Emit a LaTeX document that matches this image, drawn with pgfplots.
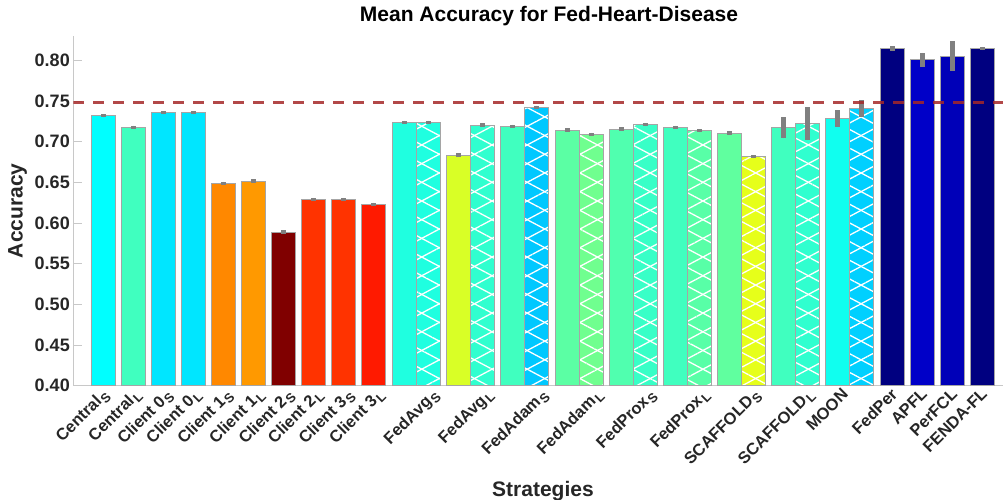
\documentclass[border=0pt]{standalone}
\usepackage{fontspec}
\setmainfont{Liberation Sans}
\usepackage{pgfplots}
\pgfplotsset{compat=1.18}
\usetikzlibrary{patterns.meta}

\definecolor{edgegray}{RGB}{165,165,165}
\definecolor{errgray}{RGB}{128,128,128}
\definecolor{refred}{RGB}{165,40,40}
\definecolor{ticktext}{RGB}{38,38,38}
\definecolor{axgray}{RGB}{200,200,200}

\definecolor{cCS}{RGB}{0,255,255}
\definecolor{cCL}{RGB}{64,255,191}
\definecolor{cZ}{RGB}{0,230,255}
\definecolor{cOS}{RGB}{255,136,0}
\definecolor{cOL}{RGB}{255,153,0}
\definecolor{cTS}{RGB}{128,0,0}
\definecolor{cTL}{RGB}{255,51,0}
\definecolor{cRS}{RGB}{255,51,0}
\definecolor{cRL}{RGB}{255,26,0}
\definecolor{gAs}{RGB}{31,255,224}
\definecolor{gAh}{RGB}{31,255,224}
\definecolor{gBs}{RGB}{217,255,38}
\definecolor{gBh}{RGB}{48,255,207}
\definecolor{gCs}{RGB}{64,255,191}
\definecolor{gCh}{RGB}{0,200,255}
\definecolor{gDs}{RGB}{91,255,164}
\definecolor{gDh}{RGB}{112,255,143}
\definecolor{gEs}{RGB}{80,255,175}
\definecolor{gEh}{RGB}{56,255,199}
\definecolor{gFs}{RGB}{64,255,191}
\definecolor{gFh}{RGB}{88,255,167}
\definecolor{gGs}{RGB}{96,255,159}
\definecolor{gGh}{RGB}{230,255,26}
\definecolor{gHs}{RGB}{64,255,191}
\definecolor{gHh}{RGB}{48,255,207}
\definecolor{gIs}{RGB}{16,255,239}
\definecolor{gIh}{RGB}{0,208,255}
\definecolor{pA}{RGB}{0,0,128}
\definecolor{pB}{RGB}{0,0,200}
\definecolor{pC}{RGB}{0,0,184}
\definecolor{pD}{RGB}{0,0,128}

\newcommand{\sub}[1]{\kern1pt\raisebox{-3.5pt}{\fontsize{13}{13}\selectfont #1}}

\newcommand{\sbar}[4]{\addplot[ybar, bar width=24, bar shift=0pt, fill=#1, draw=edgegray, line width=0.8pt,
  error bars/.cd, y dir=both, y explicit, error mark=none,
  error bar style={line width=5pt, color=errgray}]
  coordinates {(#2,#3) +- (0,#4)};}
\newcommand{\hatchbar}[4]{\addplot[ybar, bar width=24, bar shift=0pt, fill=#1, draw=edgegray, line width=0.8pt,
  postaction={pattern={Lines[angle=28,distance=16.5pt,line width=1.3pt]}, pattern color=white},
  postaction={pattern={Lines[angle=-28,distance=16.5pt,line width=1.3pt]}, pattern color=white},
  error bars/.cd, y dir=both, y explicit, error mark=none,
  error bar style={line width=5pt, color=errgray}]
  coordinates {(#2,#3) +- (0,#4)};}

\begin{document}
\begin{tikzpicture}
\useasboundingbox (0,0) rectangle (1005pt,500pt);
\begin{axis}[
  at={(73.3pt,114.3pt)}, anchor=south west,
  scale only axis, width=929.7pt, height=349.7pt,
  xmin=73.3, xmax=1003, ymin=0.40, ymax=0.83,
  axis x line*=bottom, axis y line*=left,
  axis line style={axgray, line width=1pt},
  tick align=inside, major tick length=9pt,
  ytick={0.40,0.45,0.50,0.55,0.60,0.65,0.70,0.75,0.80},
  ytick style={axgray, line width=1pt},
  xtick style={draw=none},
  /pgf/number format/assume math mode=true,
  yticklabel style={/pgf/number format/fixed, /pgf/number format/fixed zerofill,
    /pgf/number format/precision=2, font=\fontsize{18}{20}\selectfont\bfseries, text=ticktext},
  xtick={101,133,164.7,193,224.7,256,286,314.7,346,376,431,485,540,594.7,648,701.3,753,806.3,841,890,920,950,980},
  xticklabels={Central\sub{S}, Central\sub{L}, Client 0\sub{S}, Client 0\sub{L},
    Client 1\sub{S}, Client 1\sub{L}, Client 2\sub{S}, Client 2\sub{L},
    Client 3\sub{S}, Client 3\sub{L}, FedAvg\sub{S}, FedAvg\sub{L},
    FedAdam\sub{S}, FedAdam\sub{L}, FedProx\sub{S}, FedProx\sub{L},
    SCAFFOLD\sub{S}, SCAFFOLD\sub{L}, MOON, FedPer, APFL, PerFCL, FENDA-FL},
  xticklabel style={rotate=45, anchor=north east, inner sep=1pt, font=\fontsize{16.5}{18}\selectfont\bfseries, text=ticktext},
  title={Mean Accuracy for Fed-Heart-Disease},
  title style={at={(axis description cs:0.5117,1.0257)}, anchor=base, font=\fontsize{21}{24}\selectfont\bfseries},
  xlabel={Strategies},
  xlabel style={at={(axis description cs:0.5052,-0.318)}, anchor=base, font=\fontsize{21}{24}\selectfont\bfseries, text=ticktext},
  ylabel={Accuracy},
  ylabel style={at={(axis description cs:-0.060,0.5)}, anchor=center, font=\fontsize{21}{24}\selectfont\bfseries, text=ticktext},
]
\sbar{cCS}{103.7}{0.732}{0.002}
\sbar{cCL}{133.7}{0.7177}{0.002}
\sbar{cZ}{163.7}{0.7356}{0.002}
\sbar{cZ}{193.7}{0.7356}{0.002}
\sbar{cOS}{223.7}{0.649}{0.002}
\sbar{cOL}{253.7}{0.6517}{0.002}
\sbar{cTS}{283.7}{0.589}{0.002}
\sbar{cTL}{313.7}{0.629}{0.002}
\sbar{cRS}{343.7}{0.6288}{0.002}
\sbar{cRL}{373.7}{0.623}{0.002}
\sbar{gAs}{404.3}{0.7238}{0.002}
\hatchbar{gAh}{428.5}{0.724}{0.002}
\sbar{gBs}{458.7}{0.6837}{0.002}
\hatchbar{gBh}{482.7}{0.7205}{0.002}
\sbar{gCs}{512.7}{0.719}{0.002}
\hatchbar{gCh}{536.7}{0.7423}{0.002}
\sbar{gDs}{567}{0.7144}{0.002}
\hatchbar{gDh}{591}{0.709}{0.002}
\sbar{gEs}{621}{0.7156}{0.002}
\hatchbar{gEh}{645}{0.7209}{0.002}
\sbar{gFs}{675}{0.7177}{0.002}
\hatchbar{gFh}{699}{0.7136}{0.002}
\sbar{gGs}{729.3}{0.7107}{0.002}
\hatchbar{gGh}{753.5}{0.6816}{0.002}
\sbar{gHs}{783.7}{0.7172}{0.013}
\hatchbar{gHh}{807.7}{0.7221}{0.020}
\sbar{gIs}{837.7}{0.7287}{0.010}
\hatchbar{gIh}{861.7}{0.741}{0.010}
\sbar{pA}{892}{0.8143}{0.003}
\sbar{pB}{922}{0.8007}{0.0086}
\sbar{pC}{952}{0.8053}{0.018}
\sbar{pD}{982.3}{0.8147}{0.002}
\addplot[color=refred, opacity=0.85, line width=2.7pt, dash pattern=on 10.7pt off 9.3pt]
  coordinates {(73.3,0.748) (1003,0.748)};
\end{axis}
\end{tikzpicture}
\end{document}
